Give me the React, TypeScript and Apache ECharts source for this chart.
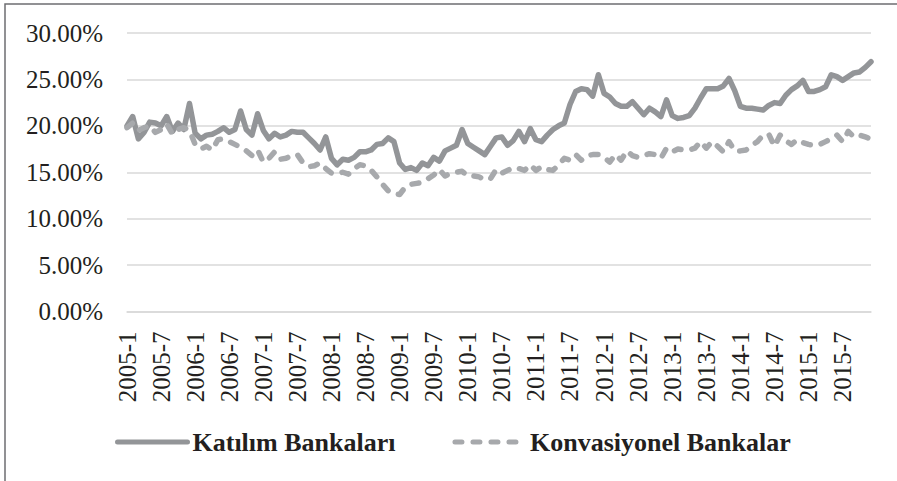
import React, { useEffect, useRef } from "react";
import * as echarts from "echarts";

const years = [2005, 2006, 2007, 2008, 2009, 2010, 2011, 2012, 2013, 2014, 2015];
const months = [1, 2, 3, 4, 5, 6, 7, 8, 9, 10, 11, 12];
const categories: string[] = [];
years.forEach((y) => months.forEach((m) => categories.push(`${y}-${m}`)));

const seriesNames = ["Katılım Bankaları", "Konvasiyonel Bankalar"];

const katilim = [
  20.0, 21.0, 18.6, 19.3, 20.4, 20.3, 20.0, 21.0, 19.4, 20.3, 19.6, 22.4,
  19.2, 18.6, 19.0, 19.1, 19.4, 19.8, 19.3, 19.6, 21.6, 19.6, 19.0, 21.3,
  19.5, 18.6, 19.2, 18.8, 19.0, 19.4, 19.3, 19.3, 18.7, 18.1, 17.4, 18.8,
  16.5, 15.8, 16.4, 16.3, 16.6, 17.2, 17.2, 17.4, 18.0, 18.1, 18.7, 18.3,
  16.0, 15.3, 15.5, 15.2, 16.0, 15.7, 16.6, 16.2, 17.3, 17.6, 17.9, 19.6,
  18.1, 17.7, 17.3, 16.9, 17.8, 18.7, 18.8, 17.9, 18.4, 19.4, 18.3, 19.7,
  18.5, 18.3, 19.0, 19.6, 20.0, 20.3, 22.3, 23.7, 24.0, 23.9, 23.2, 25.5,
  23.5, 23.1, 22.4, 22.1, 22.1, 22.6, 21.9, 21.2, 21.9, 21.5, 21.0, 22.8,
  21.1, 20.8, 20.9, 21.1, 21.9, 23.0, 24.0, 24.0, 24.0, 24.3, 25.1, 23.8,
  22.1, 21.9, 21.9, 21.8, 21.7, 22.2, 22.5, 22.4, 23.3, 23.9, 24.3, 24.9,
  23.7, 23.7, 23.9, 24.2, 25.5, 25.3, 24.9, 25.3, 25.7, 25.8, 26.3, 26.9,
];

const konvansiyonel = [
  19.8, 20.3, 19.5, 19.8, 20.0, 19.3, 19.6, 20.2, 19.1, 19.6, 19.8, 19.5,
  18.0, 17.5, 17.8, 17.4, 18.5, 18.6, 18.3, 18.0, 17.7, 17.3, 16.8, 17.4,
  16.1, 16.5, 17.2, 16.4, 16.5, 16.8, 16.9, 16.0, 15.6, 15.7, 16.0, 15.4,
  14.9, 14.9, 15.0, 14.8, 15.4, 15.8, 15.7, 15.2, 14.5, 13.7, 13.0, 12.7,
  12.6, 13.4, 13.7, 13.8, 13.9, 14.3, 14.7, 15.3, 14.6, 14.9, 15.0, 15.1,
  14.6, 14.6, 14.5, 14.2, 14.3, 15.3, 14.9, 15.2, 15.5, 15.4, 15.2, 15.8,
  15.2, 15.6, 15.3, 15.2, 15.8, 16.5, 16.3, 16.9, 16.3, 16.8, 16.9, 16.9,
  16.6, 16.1, 16.9, 16.3, 17.3, 16.8, 16.6, 16.8, 17.0, 16.9, 16.5, 17.6,
  17.2, 17.5, 17.4, 17.4, 17.6, 18.3, 17.6, 18.3, 17.8, 17.2, 18.3, 17.3,
  17.3, 17.4, 17.9, 18.3, 19.0, 19.1, 17.8, 19.0, 18.4, 18.0, 18.5, 18.2,
  18.0, 17.9, 18.0, 18.3, 18.6, 19.0, 18.3, 19.4, 18.8, 19.0, 18.8, 18.6,
];

const yMin = 0;
const yMax = 30;
const yStep = 5;

const FONT = "'Liberation Serif', 'Times New Roman', serif";
const TEXT = "#231f20";

export default function App() {
  const ref = useRef<HTMLDivElement>(null);
  useEffect(() => {
    if (!ref.current) return;
    const chart = echarts.init(ref.current, null, { renderer: "svg" });
    chart.setOption({
      animation: false,
      backgroundColor: "#ffffff",
      grid: { left: 127, right: 26, top: 33, bottom: 169.5, containLabel: false },
      graphic: [
        {
          type: "rect",
          shape: { x: 5, y: 4, width: 1200, height: 1200 },
          style: { fill: "none", stroke: "#6d6e71", lineWidth: 1.5 },
          silent: true,
        },
      ],
      legend: {
        left: 115,
        top: 429,
        padding: 0,
        itemWidth: 70,
        itemHeight: 10,
        itemGap: 57,
        itemStyle: { opacity: 0 },
        lineStyle: { width: 5, cap: "round" },
        textStyle: { fontFamily: FONT, fontSize: 26, fontWeight: "bold", color: TEXT },
        data: seriesNames,
      },
      xAxis: {
        type: "category",
        data: categories,
        boundaryGap: false,
        axisLine: { lineStyle: { color: "#d9d9d9", width: 1.5 } },
        axisTick: { show: false },
        axisLabel: {
          interval: 5,
          rotate: 90,
          margin: 20,
          fontFamily: FONT,
          fontSize: 25,
          color: TEXT,
        },
      },
      yAxis: {
        type: "value",
        min: yMin,
        max: yMax,
        interval: yStep,
        axisLine: { show: false },
        axisTick: { show: false },
        splitLine: { lineStyle: { color: "#d9d9d9", width: 1.5 } },
        axisLabel: {
          margin: 24,
          fontFamily: FONT,
          fontSize: 25,
          color: TEXT,
          formatter: (v: number) => v.toFixed(2) + "%",
        },
      },
      series: [
        {
          name: seriesNames[0],
          type: "line",
          data: katilim,
          symbol: "none",
          lineStyle: { color: "#939598", width: 5.5, cap: "round", join: "round" },
          itemStyle: { color: "#939598" },
        },
        {
          name: seriesNames[1],
          type: "line",
          data: konvansiyonel,
          symbol: "none",
          lineStyle: {
            color: "#a7a9ac",
            width: 5.5,
            type: [7, 11],
            cap: "round",
            join: "round",
          },
          itemStyle: { color: "#a7a9ac" },
        },
      ],
    });
    return () => chart.dispose();
  }, []);
  return (
    <div
      ref={ref}
      style={{ position: "fixed", left: 0, top: 0, width: 897, height: 481 }}
    />
  );
}
